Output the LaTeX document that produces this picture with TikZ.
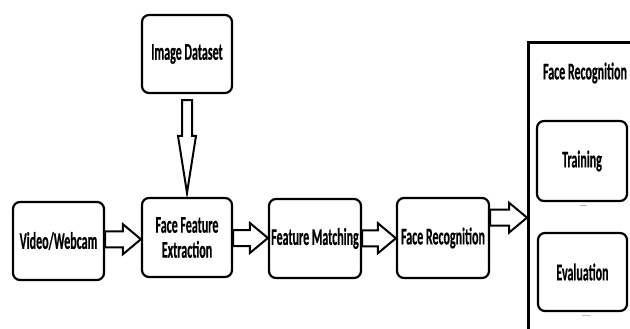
\documentclass[tikz,border=0pt]{standalone}
\usepackage{fontspec}
\setmainfont{Carlito}[FakeStretch=0.5, BoldFeatures={FakeBold=0.4}]
\usetikzlibrary{calc}
\newcommand\hblk[2]{\draw[blk] let \p1=(#1.east), \p2=(#2.west), \n1={(\y1+\y2)/2} in
  (\x1,{\n1+8pt}) -- ({\x2-18pt},{\n1+8pt}) -- ({\x2-18pt},{\n1+15pt}) -- (\x2,\n1)
  -- ({\x2-18pt},{\n1-15pt}) -- ({\x2-18pt},{\n1-8pt}) -- (\x1,{\n1-8pt}) -- cycle;}
\begin{document}
\begin{tikzpicture}[x=1pt,y=-1pt,
  box/.style={draw, line width=2.2pt, rounded corners=7pt, align=center,
    font=\bfseries\fontsize{24}{25}\selectfont, inner sep=0pt},
  lbl/.style={font=\bfseries\fontsize{24}{25}\selectfont, inner sep=0pt},
  blk/.style={draw, line width=2pt, fill=white, line join=miter},
  tick/.style={draw=gray!55, line width=1pt}]
\useasboundingbox (0,0) rectangle (630,329);
\clip (0,0) rectangle (630,329);
\node[box, minimum width=91, minimum height=78] (vid) at (58.5,241) {Video/Webcam};
\node[box, minimum width=90, minimum height=79] (ffe) at (187,237.5) {Face Feature\\Extraction};
\node[box, minimum width=92, minimum height=79] (fm) at (315,238.5) {Feature Matching};
\node[box, minimum width=92, minimum height=80] (fr) at (443,238) {Face Recognition};
\node[box, minimum width=90, minimum height=78] (img) at (187,54) {Image Dataset};
\node[draw, line width=2.6pt, minimum width=130, minimum height=310, anchor=north west, inner sep=0pt] (grp) at (527,41) {};
\node[lbl] (ttl) at (585,73) {Face Recognition};
\node[box, minimum width=90, minimum height=80] (trn) at (582,161) {Training};
\node[box, minimum width=89, minimum height=78] (evl) at (582.5,272) {Evaluation};
\draw[tick] (580,205) -- (587,205);
\draw[tick] (582,315) -- (590,315);
\hblk{vid}{ffe}
\hblk{ffe}{fm}
\hblk{fm}{fr}
\hblk{fr}{grp}
\draw[blk] let \p1=(img.south), \p2=(ffe.north) in
  ({\x1-5pt},{\y1-6pt}) -- ({\x1-5pt},{\y2+61pt}) -- ({\x1-9pt},{\y2+61pt}) -- (\x1,{\y2+4pt})
  -- ({\x1+9pt},{\y2+61pt}) -- ({\x1+5pt},{\y2+61pt}) -- ({\x1+5pt},{\y1-6pt}) -- cycle;
\end{tikzpicture}
\end{document}
